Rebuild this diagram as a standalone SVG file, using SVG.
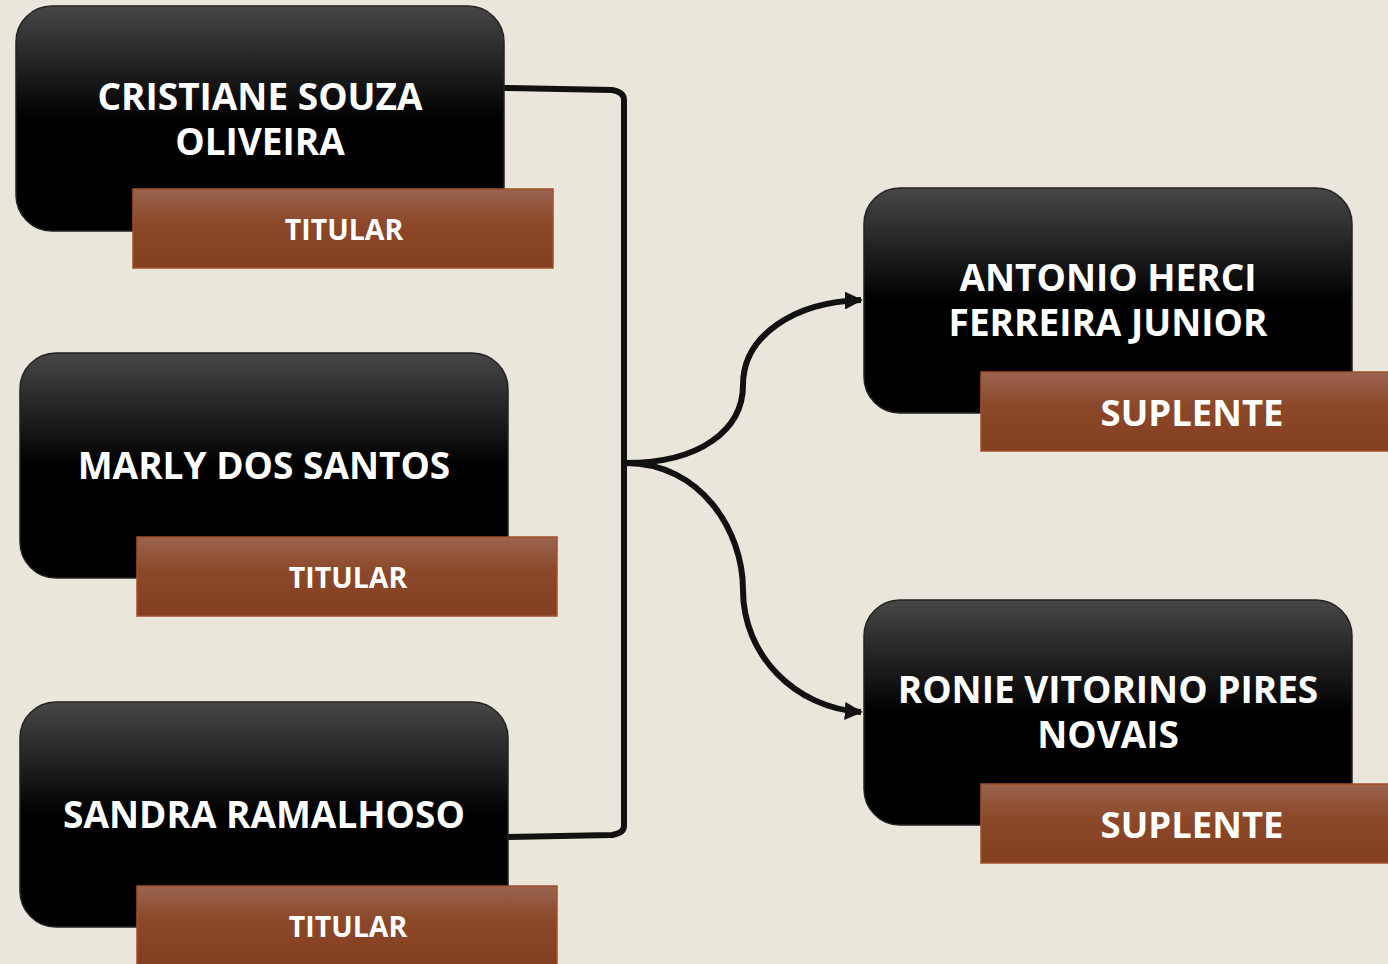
<svg xmlns="http://www.w3.org/2000/svg" width="1388" height="964" viewBox="0 0 1388 964">
<defs>
<linearGradient id="gNode" x1="0" y1="0" x2="0" y2="1">
<stop offset="0" stop-color="#474747"/>
<stop offset="0.5" stop-color="#000"/>
<stop offset="1" stop-color="#000"/>
</linearGradient>
<linearGradient id="gLab" x1="0" y1="0" x2="0" y2="1">
<stop offset="0" stop-color="#9a6450"/>
<stop offset="0.45" stop-color="#8b4727"/>
<stop offset="1" stop-color="#843f20"/>
</linearGradient>
<marker id="arr" viewBox="0 0 10 10" refX="9" refY="5" markerWidth="3" markerHeight="3" orient="auto" markerUnits="strokeWidth">
<path d="M0,0 L10,5 L0,10 z" fill="#111"/>
</marker>
<style>
.node{fill:url(#gNode);stroke:#222;stroke-width:1.5}
.lab{fill:url(#gLab);stroke:#a0502a;stroke-width:1.5}
.name{font-family:"Open Sans","Noto Sans",sans-serif;font-weight:bold;font-size:37px;fill:#fff;text-anchor:middle}
.tit{font-family:"Open Sans","Noto Sans",sans-serif;font-weight:bold;font-size:28.5px;fill:#fff;text-anchor:middle}
.sup{font-family:"Open Sans","Noto Sans",sans-serif;font-weight:bold;font-size:36.5px;fill:#fff;text-anchor:middle}
.con{fill:none;stroke:#111;stroke-width:6}
</style>
</defs>
<rect width="1388" height="964" fill="#eae6dc"/>
<g id="connectors">
<path class="con" d="M504,88 L612,90 Q624,92 624,100 L624,826 Q624,833 612,835 L508,837"/>
<path class="con" marker-end="url(#arr)" d="M626,463 C700,463 743,430 743,385 C743,335 795,302 861,300"/>
<path class="con" marker-end="url(#arr)" d="M626,463 C700,463 743,530 743,590 C743,655 795,708 861,712"/>
</g>
<g id="n1">
<rect class="node" x="16" y="6" width="488" height="225" rx="36"/>
<rect class="lab" x="133" y="189" width="420" height="79"/>
<text class="name" x="260" y="110">CRISTIANE SOUZA</text>
<text class="name" x="260" y="155">OLIVEIRA</text>
<text class="tit" x="344" y="240">TITULAR</text>
</g>
<g id="n2">
<rect class="node" x="20" y="353" width="488" height="225" rx="36"/>
<rect class="lab" x="137" y="537" width="420" height="79"/>
<text class="name" x="264" y="479">MARLY DOS SANTOS</text>
<text class="tit" x="348" y="588">TITULAR</text>
</g>
<g id="n3">
<rect class="node" x="20" y="702" width="488" height="225" rx="36"/>
<rect class="lab" x="137" y="886" width="420" height="79"/>
<text class="name" x="264" y="828">SANDRA RAMALHOSO</text>
<text class="tit" x="348" y="937">TITULAR</text>
</g>
<g id="n4">
<rect class="node" x="864" y="188" width="488" height="225" rx="36"/>
<rect class="lab" x="981" y="372" width="420" height="79"/>
<text class="name" x="1108" y="291">ANTONIO HERCI</text>
<text class="name" x="1108" y="336">FERREIRA JUNIOR</text>
<text class="sup" x="1192" y="426">SUPLENTE</text>
</g>
<g id="n5">
<rect class="node" x="864" y="600" width="488" height="225" rx="36"/>
<rect class="lab" x="981" y="784" width="420" height="79"/>
<text class="name" x="1108" y="703">RONIE VITORINO PIRES</text>
<text class="name" x="1108" y="748">NOVAIS</text>
<text class="sup" x="1192" y="838">SUPLENTE</text>
</g>
</svg>
